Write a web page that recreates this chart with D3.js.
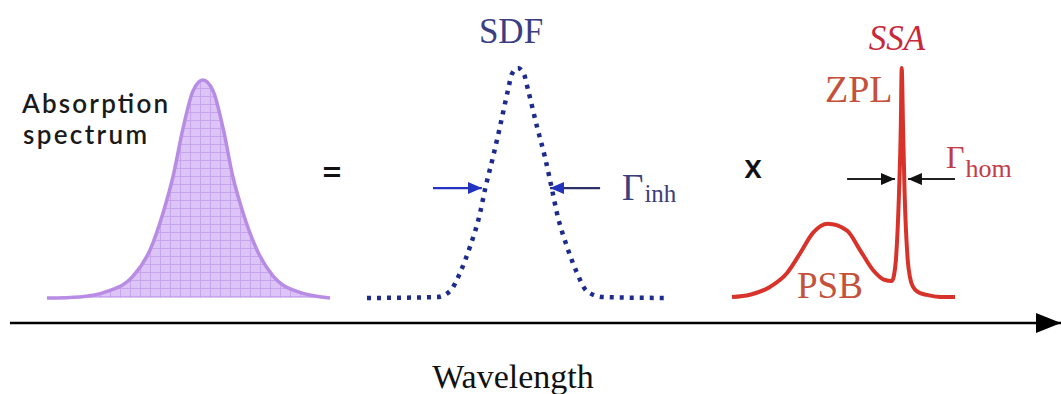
<!DOCTYPE html>
<html>
<head>
<meta charset="utf-8">
<script src="https://d3js.org/d3.v7.min.js"></script>
<style>
  html, body { margin: 0; padding: 0; background: #fff; }
  svg { display: block; }
  .serif { font-family: "Liberation Serif", "Times New Roman", Times, "DejaVu Serif", serif; }
  .sans { font-family: "Open Sans", "DejaVu Sans", sans-serif; }
  .label { font-family: Lato, "Open Sans", sans-serif; }
</style>
</head>
<body>
<div id="chart"></div>
<script>
'use strict';

// Absorption spectrum (wavelength in arb. units, intensity normalised)
const absX = [0, 11.7, 21.2, 30.4, 36.4, 41.0, 44.5, 48.1, 51.6, 55.1, 58.7, 62.2, 65.7, 69.3, 74.2, 79.9, 88.3, 100];
const absY = [0, 0.005, 0.03, 0.10, 0.22, 0.39, 0.555, 0.78, 0.95, 1, 0.95, 0.78, 0.555, 0.39, 0.22, 0.10, 0.03, 0];

// Site distribution function
const sdfX = [0, 23.3, 27.7, 31, 34.3, 37.7, 39.3, 42, 44.3, 47, 48.3, 50.3, 52.3, 53.7, 56.7, 59.3, 61.7, 63.3, 66.7, 70, 73.3, 78.7, 100];
const sdfY = [0, 0.004, 0.03, 0.109, 0.222, 0.37, 0.47, 0.613, 0.743, 0.904, 0.974, 1, 0.974, 0.904, 0.743, 0.613, 0.47, 0.37, 0.222, 0.109, 0.03, 0.004, 0];

// Single site absorption: phonon side band + zero phonon line
const ssaX = [0, 8.1, 17.0, 24.7, 30.5, 36.3, 43.0, 51.6, 57.4, 63.2, 68.6, 71.7, 72.6, 73.5, 74.9, 75.7, 76.1, 76.7, 77.4, 78.8, 79.8, 81.2, 83.4, 87.4, 93.3, 100];
const ssaY = [0, 0.01, 0.044, 0.105, 0.19, 0.28, 0.32, 0.29, 0.205, 0.118, 0.074, 0.07, 0.092, 0.162, 0.455, 0.743, 1, 0.743, 0.455, 0.162, 0.087, 0.044, 0.022, 0.009, 0, 0];

// width markers: [tail, tip] pairs and the level they sit at
const inhMarks = [[22, 38.3], [77.7, 61]];
const inhLevel = 0.478;
const homMarks = [[51.6, 73.1], [100, 78.9]];
const homLevel = 0.515;

const W = 1061, H = 394;
const svg = d3.select('#chart').append('svg')
  .attr('width', W)
  .attr('height', H);

const defs = svg.append('defs');

// grid hatch for the absorption fill
const pat = defs.append('pattern')
  .attr('id', 'grid')
  .attr('patternUnits', 'userSpaceOnUse')
  .attr('width', 10)
  .attr('height', 8);
pat.append('rect').attr('width', 10).attr('height', 8).attr('fill', '#dcc4f6');
pat.append('path')
  .attr('d', 'M0,0.5H10M0.5,0V8')
  .attr('stroke', '#c7a5ee')
  .attr('stroke-width', 1)
  .attr('fill', 'none');

function addHead(id, color, w, h) {
  defs.append('marker')
    .attr('id', id)
    .attr('markerUnits', 'userSpaceOnUse')
    .attr('viewBox', `0 0 ${w} ${h}`)
    .attr('refX', w).attr('refY', h / 2)
    .attr('markerWidth', w).attr('markerHeight', h)
    .attr('orient', 'auto')
    .append('path')
    .attr('d', `M0,0L${w},${h / 2}L0,${h}Z`)
    .attr('fill', color);
}
addHead('headBlue', '#2233c0', 14, 12);
addHead('headBlack', '#111', 14, 12);
addHead('headAxis', '#000', 25, 20);

const zip = (xs, ys) => xs.map((x, i) => ({x: x, y: ys[i]}));

function panel(x0, x1, yBase, yTop) {
  return {
    x: d3.scaleLinear().domain([0, 100]).range([x0, x1]),
    y: d3.scaleLinear().domain([0, 1]).range([yBase, yTop])
  };
}

// --- absorption spectrum
const pA = panel(47, 330, 298, 80);
const absData = zip(absX, absY);
svg.append('path')
  .datum(absData)
  .attr('d', d3.area().x(d => pA.x(d.x)).y0(pA.y(0)).y1(d => pA.y(d.y)).curve(d3.curveMonotoneX))
  .attr('fill', 'url(#grid)');
svg.append('path')
  .datum(absData)
  .attr('d', d3.line().x(d => pA.x(d.x)).y(d => pA.y(d.y)).curve(d3.curveMonotoneX))
  .attr('fill', 'none')
  .attr('stroke', '#b88ce4')
  .attr('stroke-width', 3.5);

[['Absorption', 22, 113, 146], ['spectrum', 23, 144, 124]].forEach(([t, x, y, len]) => {
  svg.append('text')
    .attr('class', 'label')
    .attr('x', x).attr('y', y)
    .attr('font-size', 26)
    .attr('font-weight', 600)
    .attr('textLength', len)
    .attr('lengthAdjust', 'spacing')
    .attr('fill', '#1a1a1a')
    .text(t);
});

svg.append('text')
  .attr('class', 'sans')
  .attr('x', 332).attr('y', 184)
  .attr('text-anchor', 'middle')
  .attr('font-weight', 600)
  .attr('font-size', 34)
  .attr('fill', '#111')
  .text('=');

// --- site distribution function
const pS = panel(367, 667, 298, 68);
svg.append('path')
  .datum(zip(sdfX, sdfY))
  .attr('d', d3.line().x(d => pS.x(d.x)).y(d => pS.y(d.y)).curve(d3.curveMonotoneX))
  .attr('fill', 'none')
  .attr('stroke', '#1d2a8e')
  .attr('stroke-width', 4.5)
  .attr('stroke-dasharray', '4 6');

svg.selectAll('.inh')
  .data(inhMarks)
  .enter().append('line')
  .attr('class', 'inh')
  .attr('x1', d => pS.x(d[0])).attr('x2', d => pS.x(d[1]))
  .attr('y1', pS.y(inhLevel)).attr('y2', pS.y(inhLevel))
  .attr('stroke', (d, i) => i ? '#2b3168' : '#2233c0')
  .attr('stroke-width', 2.2)
  .attr('marker-end', 'url(#headBlue)');

svg.append('text')
  .attr('class', 'serif')
  .attr('x', 511).attr('y', 43)
  .attr('text-anchor', 'middle')
  .attr('font-size', 35)
  .attr('fill', '#3b3f82')
  .text('SDF');

const gInh = svg.append('text')
  .attr('class', 'serif')
  .attr('x', 622).attr('y', 200)
  .attr('fill', '#3b3f7c');
gInh.append('tspan').attr('font-size', 37).text('Γ');
gInh.append('tspan').attr('font-size', 25).attr('dx', 1).attr('dy', 2).text('inh');

svg.append('text')
  .attr('class', 'sans')
  .attr('x', 753).attr('y', 178)
  .attr('text-anchor', 'middle')
  .attr('font-size', 32)
  .attr('font-weight', 600)
  .attr('fill', '#111')
  .text('x');

// --- single site absorption
const pZ = panel(732, 955, 297, 68);
svg.append('path')
  .datum(zip(ssaX, ssaY))
  .attr('d', d3.line().x(d => pZ.x(d.x)).y(d => pZ.y(d.y)).curve(d3.curveMonotoneX))
  .attr('fill', 'none')
  .attr('stroke', '#d8332a')
  .attr('stroke-width', 4)
  .attr('stroke-linejoin', 'round');

svg.selectAll('.hom')
  .data(homMarks)
  .enter().append('line')
  .attr('class', 'hom')
  .attr('x1', d => pZ.x(d[0])).attr('x2', d => pZ.x(d[1]))
  .attr('y1', pZ.y(homLevel)).attr('y2', pZ.y(homLevel))
  .attr('stroke', '#222')
  .attr('stroke-width', 2)
  .attr('marker-end', 'url(#headBlack)');

svg.append('text')
  .attr('class', 'serif')
  .attr('x', 897).attr('y', 50)
  .attr('text-anchor', 'middle')
  .attr('font-style', 'italic')
  .attr('font-size', 35)
  .attr('fill', '#c8283a')
  .text('SSA');

svg.append('text')
  .attr('class', 'serif')
  .attr('x', 825).attr('y', 102)
  .attr('font-size', 38)
  .attr('fill', '#c4523a')
  .text('ZPL');

svg.append('text')
  .attr('class', 'serif')
  .attr('x', 797).attr('y', 298)
  .attr('font-size', 37)
  .attr('fill', '#c4523a')
  .text('PSB');

const gHom = svg.append('text')
  .attr('class', 'serif')
  .attr('x', 946).attr('y', 168)
  .attr('fill', '#c33a48');
gHom.append('tspan').attr('font-size', 32).text('Γ');
gHom.append('tspan').attr('font-size', 26).attr('dx', 1).attr('dy', 9).text('hom');

// --- wavelength axis
svg.append('line')
  .attr('x1', 10).attr('x2', 1061)
  .attr('y1', 323).attr('y2', 323)
  .attr('stroke', '#000')
  .attr('stroke-width', 2.5)
  .attr('marker-end', 'url(#headAxis)');

svg.append('text')
  .attr('class', 'serif')
  .attr('x', 513).attr('y', 388)
  .attr('text-anchor', 'middle')
  .attr('font-size', 34)
  .attr('fill', '#111')
  .text('Wavelength');
</script>
</body>
</html>
